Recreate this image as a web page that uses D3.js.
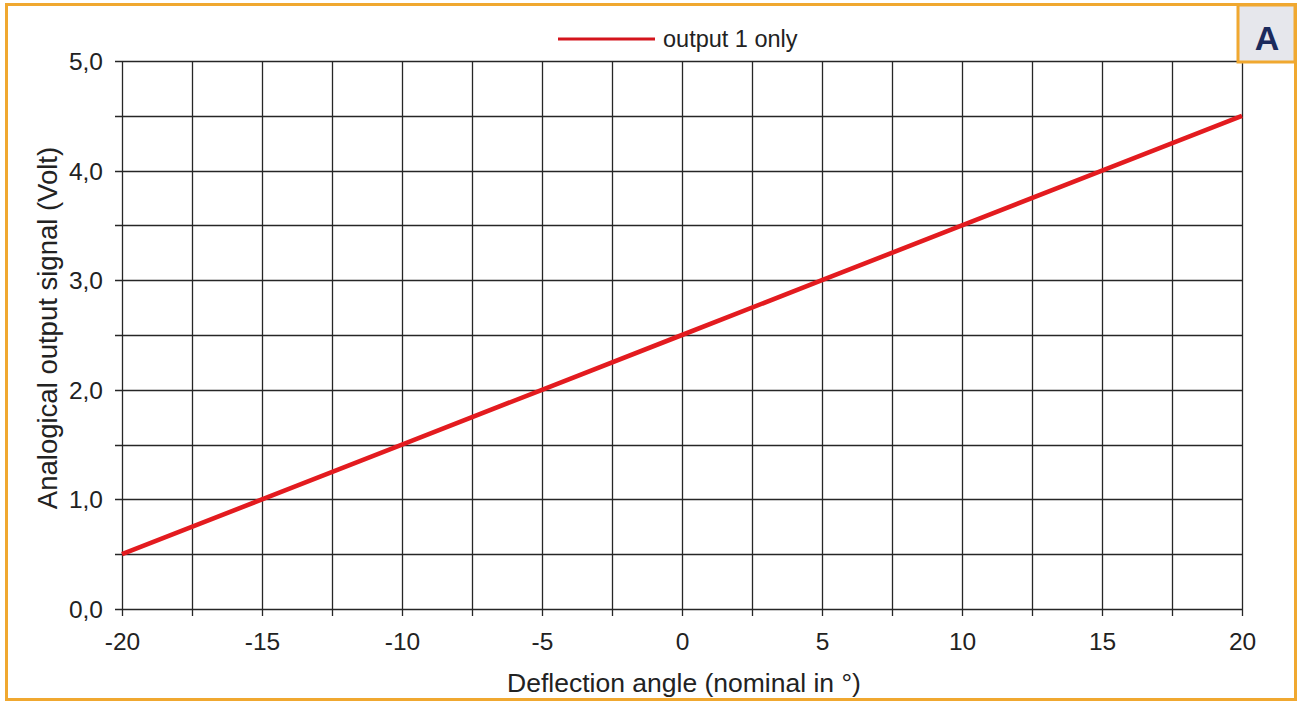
<!DOCTYPE html>
<html><head><meta charset="utf-8">
<script src="https://cdn.jsdelivr.net/npm/d3@7"></script>
<style>body{margin:0;background:#fff}svg{display:block;font-family:Arial,"Liberation Sans",sans-serif}</style>
</head><body><svg id="c" width="1300" height="703"></svg>
<script>
const angles = [-20, -15, -10, -5, 0, 5, 10, 15, 20];
const output1 = [0.5, 1.0, 1.5, 2.0, 2.5, 3.0, 3.5, 4.0, 4.5];
const xTickValues = [-20, -15, -10, -5, 0, 5, 10, 15, 20];
const yTickValues = [0, 1, 2, 3, 4, 5];
const seriesName = "output 1 only";
const xTitle = "Deflection angle (nominal in °)";
const yTitle = "Analogical output signal (Volt)";
const panelLabel = "A";

const FONT = "Arial, 'Liberation Sans', sans-serif";
const svg = d3.select("#c");
const L = 122, R = 1242, T = 61, B = 609;
const x = d3.scaleLinear().domain([-20, 20]).range([L, R]);
const y = d3.scaleLinear().domain([0, 5]).range([B, T]);

// outer border
svg.append("rect").attr("x", 6.5).attr("y", 4.5).attr("width", 1289).attr("height", 695)
  .attr("fill", "#fff").attr("stroke", "#f0a830").attr("stroke-width", 3);

// grid
const xGrid = d3.range(-20, 20.01, 2.5), yGrid = d3.range(0, 5.01, 0.5);
const g = svg.append("g");
g.selectAll(".vx").data(xGrid).join("line")
  .attr("x1", d => Math.round(x(d)) + 0.5).attr("x2", d => Math.round(x(d)) + 0.5)
  .attr("y1", T).attr("y2", B + 7).attr("stroke", "#262626").attr("stroke-width", 1.3);
g.selectAll(".hy").data(yGrid).join("line")
  .attr("y1", d => Math.round(y(d)) + 0.5).attr("y2", d => Math.round(y(d)) + 0.5)
  .attr("x1", L - 7).attr("x2", R).attr("stroke", "#262626").attr("stroke-width", 1.3);

// axes labels
const fmtY = d => d.toFixed(1).replace(".", ",");
const fmtX = d => String(d);
svg.append("g").attr("transform", `translate(0,${B + 41})`)
  .call(d3.axisBottom(x).tickValues(xTickValues).tickFormat(fmtX).tickSize(0).tickPadding(0))
  .call(a => a.select(".domain").remove())
  .call(a => a.selectAll("text").attr("font-size", 24.5).attr("fill", "#222").attr("font-family", FONT).attr("dy", 0));
svg.append("g").attr("transform", `translate(${L - 19},0)`)
  .call(d3.axisLeft(y).tickValues(yTickValues).tickFormat(fmtY).tickSize(0).tickPadding(0))
  .call(a => a.select(".domain").remove())
  .call(a => a.selectAll("text").attr("font-size", 24.5).attr("fill", "#222").attr("font-family", FONT).attr("dy", "0.35em"));

// line
svg.append("path").datum(angles.map((a, i) => [a, output1[i]]))
  .attr("d", d3.line().x(d => x(d[0])).y(d => y(d[1])))
  .attr("fill", "none").attr("stroke", "#e31b1f").attr("stroke-width", 4.6);

// titles
svg.append("text").attr("x", 684).attr("y", 692).attr("text-anchor", "middle")
  .attr("font-size", 26.5).attr("fill", "#222").text(xTitle);
svg.append("text").attr("transform", `translate(57,328) rotate(-90)`).attr("text-anchor", "middle")
  .attr("font-size", 27.5).attr("fill", "#222").text(yTitle);

// legend
svg.append("line").attr("x1", 558).attr("x2", 655).attr("y1", 39).attr("y2", 39)
  .attr("stroke", "#d4141c").attr("stroke-width", 3);
svg.append("text").attr("x", 663).attr("y", 47).attr("font-size", 23.5).attr("fill", "#222").text(seriesName);

// panel label box
svg.append("rect").attr("x", 1238).attr("y", 5).attr("width", 57).attr("height", 57)
  .attr("fill", "#e6e7ec").attr("stroke", "#f0a830").attr("stroke-width", 3);
svg.append("text").attr("x", 1267).attr("y", 50).attr("text-anchor", "middle")
  .attr("font-size", 34).attr("font-weight", "bold").attr("fill", "#1b2a5c").text(panelLabel);
</script></body></html>
